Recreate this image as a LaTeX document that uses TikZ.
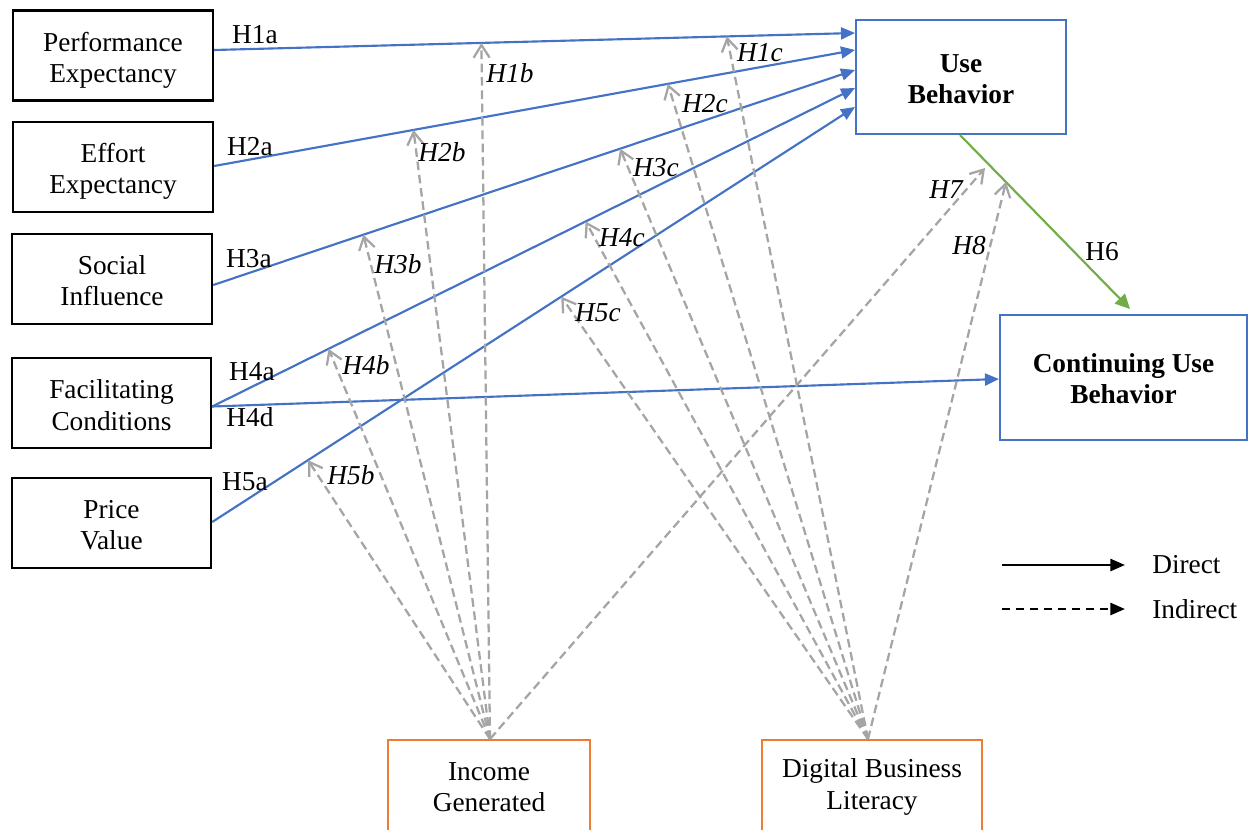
\documentclass[tikz,border=0pt]{standalone}
\usepackage{fontspec}
\setmainfont{Liberation Serif}
\usetikzlibrary{arrows.meta,calc}
\definecolor{ublue}{HTML}{4472C4}
\definecolor{ugreen}{HTML}{70AD47}
\definecolor{uorange}{HTML}{ED7D31}
\definecolor{ugray}{HTML}{A5A5A5}
\newcommand\myfnt{\fontsize{20.5pt}{23.5pt}\selectfont}
\begin{document}
\begin{tikzpicture}[x=0.75pt,y=-0.75pt,
  box/.style={draw=black,line width=1.8pt,inner sep=0pt,minimum width=150pt,minimum height=67.5pt},
  bbox/.style={draw=ublue,line width=1.5pt,inner sep=0pt},
  obox/.style={draw=uorange,line width=1.5pt,inner sep=0pt,minimum height=69pt},
  txt/.style={inner sep=0pt,align=center,font=\myfnt},
  btxt/.style={inner sep=0pt,align=center,font=\myfnt\bfseries},
  direct/.style={draw=ublue,line width=1.6pt,-{Triangle[length=10.5pt,width=9pt]}},
  gdirect/.style={draw=ugreen,line width=1.6pt,-{Triangle[length=11pt,width=10.5pt]}},
  indirect/.style={draw=ugray,line width=1.7pt,dash pattern=on 6.5pt off 3.5pt,-{Straight Barb[length=9.5pt,width=12pt]}},
  lab/.style={font=\myfnt,inner sep=0pt},
  ilab/.style={font=\myfnt\itshape,inner sep=0pt}
]
\useasboundingbox (0,0) rectangle (1248,829);
\clip (0,0) rectangle (1248,829);

% boxes
\node[box] (pe) at (113,55.5) {};
\node[box] (ee) at (113,167) {};
\node[box] (si) at (112,279) {};
\node[box,minimum width=149.25pt] (fc) at (111.5,403) {};
\node[box,minimum width=149.25pt] (pv) at (111.5,523) {};
\node[bbox,minimum width=157.5pt,minimum height=85.5pt] (ub) at (961,77) {};
\node[bbox,minimum width=185.25pt,minimum height=93.75pt] (cub) at (1123.5,377.5) {};
\node[obox,minimum width=151.5pt] (ig) at (489,786) {};
\node[obox,minimum width=165pt] (dbl) at (872,786) {};

% box texts
\node[txt] (pe-t) at ($(pe)+(0,4.5)$) {Performance\\Expectancy};
\node[txt] (ee-t) at ($(ee)+(0,4)$) {Effort\\Expectancy};
\node[txt] (si-t) at ($(si)+(0,1.5)$) {Social\\Influence};
\node[txt] (fc-t) at ($(fc)+(0,2)$) {Facilitating\\Conditions};
\node[txt] (pv-t) at ($(pv)+(0,2)$) {Price\\Value};
\node[btxt] (ub-t) at ($(ub)+(0,2.5)$) {Use\\Behavior};
\node[btxt] (cub-t) at ($(cub)+(0,1)$) {Continuing Use\\Behavior};
\node[txt] (ig-t) at ($(ig)+(0,1)$) {Income\\Generated};
\node[txt] (dbl-t) at ($(dbl)+(0,1)$) {Digital Business\\Literacy};

% direct paths
\draw[direct] ($(pe.east)+(0,-5.5)$) -- coordinate[pos=0.417] (t1b) coordinate[pos=0.80] (t1c) ($(ub.west)+(0,-44)$);
\draw[direct] ($(ee.east)+(0,-1)$) -- coordinate[pos=0.311] (t2b) coordinate[pos=0.708] (t2c) ($(ub.west)+(0,-27)$);
\draw[direct] ($(si.east)+(0,6)$) -- coordinate[pos=0.234] (t3b) coordinate[pos=0.634] (t3c) ($(ub.west)+(0,-7)$);
\draw[direct] ($(fc.east)+(0,3.5)$) -- coordinate[pos=0.181] (t4b) coordinate[pos=0.581] (t4c) ($(ub.west)+(0,11)$);
\draw[direct] ($(fc.east)+(0,3.5)$) -- ($(cub.west)+(0,1.5)$);
\draw[direct] ($(pv.east)+(0,-1)$) -- coordinate[pos=0.149] (t5b) coordinate[pos=0.543] (t5c) ($(ub.west)+(0,30)$);
\coordinate (h6end) at (1130,309);
\draw[gdirect] ($(ub.south)+(-1,0)$) -- (h6end);
\coordinate (t7) at (985,168);
\coordinate (t8) at (1006,182);

% indirect paths
\foreach \t in {t1b,t2b,t3b,t4b,t5b,t7}
  \draw[indirect] ($(ig.north)+(1,0)$) -- (\t);
\foreach \t in {t1c,t2c,t3c,t4c,t5c,t8}
  \draw[indirect] ($(dbl.north)+(-4,0)$) -- (\t);

% labels
\node[lab] (l1a) at (255,35) {H1a};
\node[lab] (l2a) at (250,147) {H2a};
\node[lab] (l3a) at (249,259) {H3a};
\node[lab] (l4a) at (252,372) {H4a};
\node[lab] (l4d) at (250,417) {H4d};
\node[lab] (l5a) at (245,482) {H5a};
\node[lab] (l6) at (1102,252) {H6};
\node[ilab] (l1b) at (510,73) {H1b};
\node[ilab] (l1c) at (760,53) {H1c};
\node[ilab] (l2b) at (442,152) {H2b};
\node[ilab] (l2c) at (705,104) {H2c};
\node[ilab] (l3b) at (398,264) {H3b};
\node[ilab] (l3c) at (656,168) {H3c};
\node[ilab] (l4b) at (366,365) {H4b};
\node[ilab] (l4c) at (622,238) {H4c};
\node[ilab] (l5b) at (351,475) {H5b};
\node[ilab] (l5c) at (598,313) {H5c};
\node[ilab] (l7) at (946,190) {H7};
\node[ilab] (l8) at (969,246) {H8};

% legend
\coordinate (lg1s) at (1002,565);
\coordinate (lg1e) at (1125,565);
\coordinate (lg2s) at (1002,609);
\coordinate (lg2e) at (1125,609);
\draw[line width=2pt,-{Triangle[length=11pt,width=9pt]}] (lg1s) -- (lg1e);
\draw[line width=2pt,dash pattern=on 6pt off 4.5pt,-{Triangle[length=11pt,width=9pt]}] (lg2s) -- (lg2e);
\node[lab,anchor=west] (ld) at (1152,565) {Direct};
\node[lab,anchor=west] (li) at (1152,609) {Indirect};
\end{tikzpicture}
\end{document}
